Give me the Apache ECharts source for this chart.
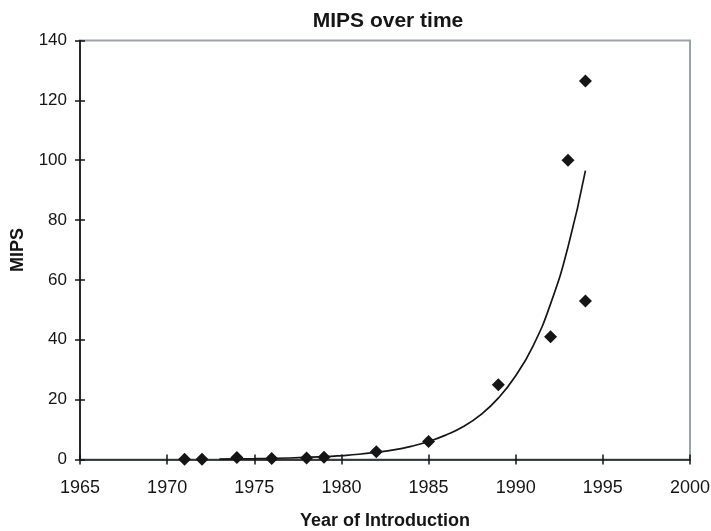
<!DOCTYPE html>
<html>
<head>
<meta charset="utf-8">
<script src="https://cdn.jsdelivr.net/npm/echarts@6/dist/echarts.min.js"></script>
<style>
html,body{margin:0;padding:0;background:#fff;}
#chart{width:711px;height:531px;}
</style>
</head>
<body>
<div id="chart"></div>
<script>
// Data points: [year, MIPS]
var years = [1971, 1972, 1974, 1976, 1978, 1979, 1982, 1985, 1989, 1992, 1993, 1994, 1994];
var mips  = [0.06, 0.06, 0.64, 0.37, 0.5, 0.75, 2.6, 6, 25, 41, 100, 126.5, 53];
// Trend line
var trendYears = [1973, 1975, 1977, 1979, 1980, 1981, 1982, 1983, 1984, 1985, 1986, 1987, 1988, 1989, 1990, 1991, 1992, 1993, 1994];
var trendMips  = [0.12, 0.27, 0.5, 0.95, 1.3, 1.75, 2.4, 3.2, 4.4, 6.0, 8.2, 11, 15, 20.5, 28, 38, 52, 71, 96.5];
var xTicks = [1965, 1970, 1975, 1980, 1985, 1990, 1995, 2000];
var yTicks = [0, 20, 40, 60, 80, 100, 120, 140];

var font = 'Liberation Sans, Arial, Helvetica, sans-serif';
var ink = '#151515';
var chart = echarts.init(document.getElementById('chart'));
var pts = years.map(function(y, i){ return [y, mips[i]]; });
var trend = trendYears.map(function(y, i){ return [y, trendMips[i]]; });

chart.setOption({
  animation: false,
  title: {
    text: 'MIPS over time',
    left: 383, top: 6, textAlign: 'center',
    textStyle: {fontFamily: font, fontSize: 21, fontWeight: 'bold', color: ink}
  },
  grid: {left: 80, right: 21, top: 40.5, bottom: 71.5, containLabel: false, outerBoundsMode: 'none',
         show: true, borderColor: '#9ba2aa', borderWidth: 2, backgroundColor: 'transparent'},
  xAxis: [{
    type: 'value', min: xTicks[0], max: xTicks[xTicks.length-1], interval: 5,
    name: 'Year of Introduction', nameLocation: 'middle', nameGap: 53,
    nameTextStyle: {fontFamily: font, fontSize: 18, fontWeight: 'bold', color: ink},
    axisLine: {show: true, lineStyle: {color: ink, width: 1.7}},
    axisTick: {show: true, length: 5, lineStyle: {color: ink, width: 1.5}},
    axisLabel: {fontFamily: font, fontSize: 18, color: ink, margin: 20, formatter: function(v){ return String(v); }},
    splitLine: {show: false}
  }, {
    type: 'value', min: xTicks[0], max: xTicks[xTicks.length-1], interval: 5, position: 'bottom',
    axisLine: {show: false}, axisTick: {show: true, inside: true, length: 5, lineStyle: {color: ink, width: 1.5}},
    axisLabel: {show: false}, splitLine: {show: false}
  }],
  yAxis: [{
    type: 'value', min: yTicks[0], max: yTicks[yTicks.length-1], interval: 20,
    name: 'MIPS', nameLocation: 'middle', nameGap: 53, nameRotate: 90,
    nameTextStyle: {fontFamily: font, fontSize: 18, fontWeight: 'bold', color: ink},
    axisLine: {show: true, lineStyle: {color: ink, width: 1.7}},
    axisTick: {show: true, length: 5, lineStyle: {color: ink, width: 1.5}},
    axisLabel: {fontFamily: font, fontSize: 17, color: ink, margin: 13},
    splitLine: {show: false}
  }, {
    type: 'value', min: yTicks[0], max: yTicks[yTicks.length-1], interval: 20, position: 'left',
    axisLine: {show: false}, axisTick: {show: true, inside: true, length: 5, lineStyle: {color: ink, width: 1.5}},
    axisLabel: {show: false}, splitLine: {show: false}
  }],
  series: [{
    type: 'line', data: trend, smooth: true, showSymbol: false, symbol: 'none',
    lineStyle: {color: ink, width: 1.7}, z: 2
  }, {
    type: 'scatter', data: pts, symbol: 'diamond', symbolSize: [13, 13],
    itemStyle: {color: ink, opacity: 1}, z: 3
  }]
});
</script>
</body>
</html>
